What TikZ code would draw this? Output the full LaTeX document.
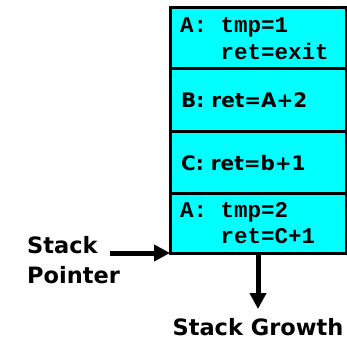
\documentclass[tikz,border=0pt]{standalone}
\usepackage{fontspec}
\usetikzlibrary{arrows.meta}
\newfontfamily\monofont{Liberation Mono}
\newfontfamily\comicfont{DejaVu Sans}
\definecolor{stackcyan}{HTML}{00FFFF}
\begin{document}
\begin{tikzpicture}[x=1pt,y=-1pt,
  frame/.style={draw=black,line width=3pt,fill=stackcyan,inner sep=0pt,outer sep=0pt,minimum width=176pt,anchor=north west},
  codetxt/.style={anchor=base west,inner sep=0pt,font=\monofont\bfseries\fontsize{22.5}{22.5}\selectfont},
  comictxt/.style={anchor=base west,inner sep=0pt,font=\comicfont\bfseries\fontsize{20}{20}\selectfont},
  labeltxt/.style={anchor=base west,inner sep=0pt,font=\comicfont\bfseries\fontsize{22.5}{22.5}\selectfont},
  bigarrow/.style={line width=5pt,-{Triangle[length=16pt,width=16pt]}}
]
\useasboundingbox (0,0) rectangle (347,339);
\node[frame,minimum height=61pt] (f1) at (170,8) {};
\node[frame,minimum height=62pt] (f2) at (170,69) {};
\node[frame,minimum height=62pt] (f3) at (170,131) {};
\node[frame,minimum height=60pt] (f4) at (170,193) {};
\node[codetxt] (t1a) at (180,33) {A: tmp=1};
\node[codetxt] (t1b) at (180,60) {\hphantom{A: }ret=exit};
\node[comictxt] (t2) at (181,108) {B: ret=A+2};
\node[comictxt] (t3) at (181,170) {C: ret=b+1};
\node[codetxt] (t4a) at (180,217) {A: tmp=2};
\node[codetxt] (t4b) at (180,243) {\hphantom{A: }ret=C+1};
\node[labeltxt] (sp1) at (27,253) {Stack};
\node[labeltxt] (sp2) at (27,283) {Pointer};
\node[labeltxt,anchor=base] (sg) at (258,335) {Stack Growth};
\coordinate (spstart) at (110,253);
\coordinate (gend) at (258,309);
\draw[bigarrow] (spstart) -- (spstart -| f4.west);
\draw[bigarrow] (f4.south) -- (gend);
\end{tikzpicture}
\end{document}
